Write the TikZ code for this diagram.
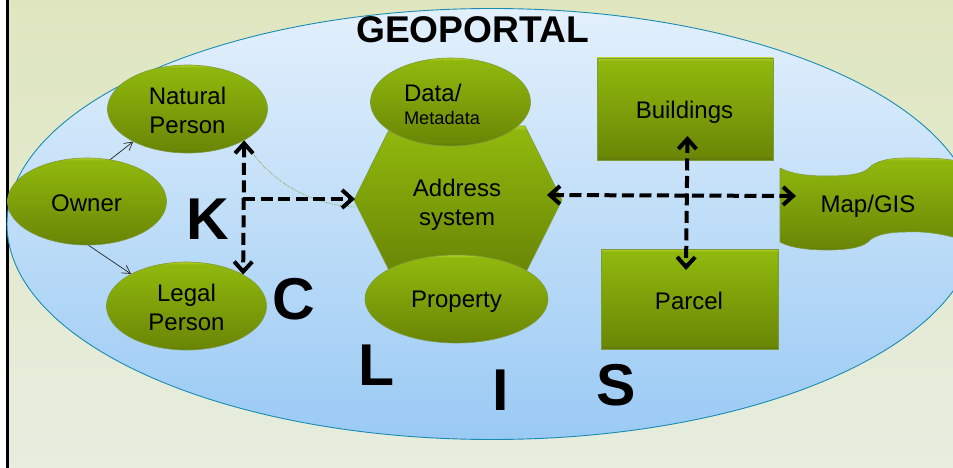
\documentclass[tikz,border=0pt]{standalone}
\usepackage{fontspec}
\setmainfont{Liberation Sans}
\usetikzlibrary{arrows.meta,shapes.geometric,shapes.symbols}
\definecolor{ghi}{HTML}{B4D024}
\definecolor{gtop}{HTML}{8EB60D}
\definecolor{gbot}{HTML}{6B8706}
\definecolor{gdark}{HTML}{5F7808}
\definecolor{gedge}{HTML}{7E9A3A}
\definecolor{bgtop}{HTML}{DFE6BF}
\definecolor{bgbot}{HTML}{E7EDDF}
\definecolor{skytop}{HTML}{E3F0FC}
\definecolor{skybot}{HTML}{9ACAF4}
\definecolor{rimblue}{HTML}{1A8CB4}
\pgfdeclareverticalshading{bevel}{100bp}{color(0bp)=(gdark);color(25bp)=(gdark);color(27bp)=(gbot);color(71bp)=(gtop);color(73.5bp)=(gtop);color(75bp)=(ghi);color(100bp)=(ghi)}
\tikzset{
 x=1pt,y=-1pt,
 greenfill/.style={shading=bevel,draw=gedge,line width=0.6pt},
 bodyfont/.style={font=\fontsize{24}{29}\selectfont,text=black,inner sep=0pt,align=center},
 oval/.style={ellipse,greenfill,inner sep=0pt,minimum width=160pt,minimum height=88pt},
 box/.style={rectangle,greenfill,inner sep=0pt},
 biglet/.style={font=\fontsize{59}{60}\selectfont\bfseries,inner sep=0pt},
 thinarrow/.style={-{Straight Barb[length=8pt,width=9pt,line width=0.7pt]},line width=0.7pt,draw=black!85},
 dasharrow/.style={{Straight Barb[length=10pt,width=18pt]}-{Straight Barb[length=10pt,width=18pt]},line width=4pt,dash pattern=on 12pt off 5.5pt},
 dashone/.style={-{Straight Barb[length=10pt,width=18pt]},line width=4pt,dash pattern=on 12pt off 5.5pt},
}
\begin{document}
\begin{tikzpicture}
\useasboundingbox (0,0) rectangle (953,468);
\fill[top color=bgtop,bottom color=bgbot] (0,0) rectangle (953,468);
\fill[white] (0,0) rectangle (6,468);
\draw[line width=2.6pt] (7.3,0) -- (7.3,468);
\node[ellipse,draw=rimblue,line width=0.9pt,top color=skytop,bottom color=skybot,minimum width=970pt,minimum height=431pt,inner sep=0pt] (portal) at (492,224) {};
\node[font=\fontsize{37.2}{40}\selectfont\bfseries,inner sep=0pt] (title) at (472.5,29.5) {GEOPORTAL};

\node[signal,signal from=nowhere,signal to=west and east,signal pointer angle=127,greenfill,inner sep=0pt,minimum width=208pt,minimum height=148pt] (hex) at (458,200) {};
\node[bodyfont] (addr) at (457,204.5) {Address\\system};
\node[oval] (data) at (450.5,102) {};
\node[bodyfont,align=left] (datatext) at (442,104) {Data/\\[-6pt]{\fontsize{18.2}{22}\selectfont Metadata}};
\node[oval,minimum width=183pt] (property) at (456.5,299) {};
\node[bodyfont] (propertytext) at (456.5,302) {Property};

\node[oval,minimum width=159pt,minimum height=87pt] (owner) at (87,201.5) {};
\node[bodyfont] (ownertext) at (86.5,203.5) {Owner};
\node[oval] (natural) at (187.5,109) {};
\node[bodyfont] (naturaltext) at (187.5,110.5) {Natural\\Person};
\node[oval] (legal) at (186.5,306) {};
\node[bodyfont] (legaltext) at (186.5,307) {Legal\\Person};

\node[box,minimum width=176pt,minimum height=102pt] (buildings) at (685,109) {};
\node[bodyfont] (buildingstext) at (684.5,112) {Buildings};
\node[box,minimum width=177pt,minimum height=100pt] (parcel) at (689.5,299) {};
\node[bodyfont] (parceltext) at (689,300.5) {Parcel};

\path[greenfill] (780,168) .. controls (793,175) and (812,176) .. (827,176)
  .. controls (845,176) and (862,175) .. (869,168)
  .. controls (875,161) and (890,158) .. (905,158)
  .. controls (925,158) and (945,158) .. (956,161)
  -- (956,238) .. controls (940,233) and (920,231) .. (905,232)
  .. controls (888,232) and (874,235) .. (868,242)
  .. controls (860,249) and (840,250) .. (827,250)
  .. controls (810,250) and (790,248) .. (780,242) -- cycle;
\node[bodyfont] (map) at (868,206) {Map/GIS};

\coordinate (junctionA) at (243,199);
\coordinate (curveEnd) at (355,207);
\coordinate (hexTip) at (547,195);
\coordinate (mapTip) at (796,196);
\coordinate (buildTip) at (687.5,136);
\coordinate (parcelTip) at (686,270);
\coordinate (hexLeft) at (355,199);

\draw[draw=gtop!80!black,line width=0.6pt,densely dotted] (natural.-29) .. controls (270,185) and (315,205) .. (curveEnd);
\draw[thinarrow] (owner.61) -- (natural.211);
\draw[thinarrow] (owner.-88) -- (legal.150);
\draw[dasharrow] (natural.-29) -- (legal.29);
\draw[dashone] (junctionA) -- (hexLeft);
\draw[dasharrow] (hexTip) -- (mapTip);
\draw[dasharrow] (buildTip) -- (parcelTip);

\node[biglet] (K) at (207.5,219) {K};
\node[biglet] (C) at (293.5,299) {C};
\node[biglet] (L) at (376.5,365) {L};
\node[biglet] (I) at (500.5,390.5) {I};
\node[biglet] (S) at (616.5,385) {S};
\end{tikzpicture}
\end{document}
